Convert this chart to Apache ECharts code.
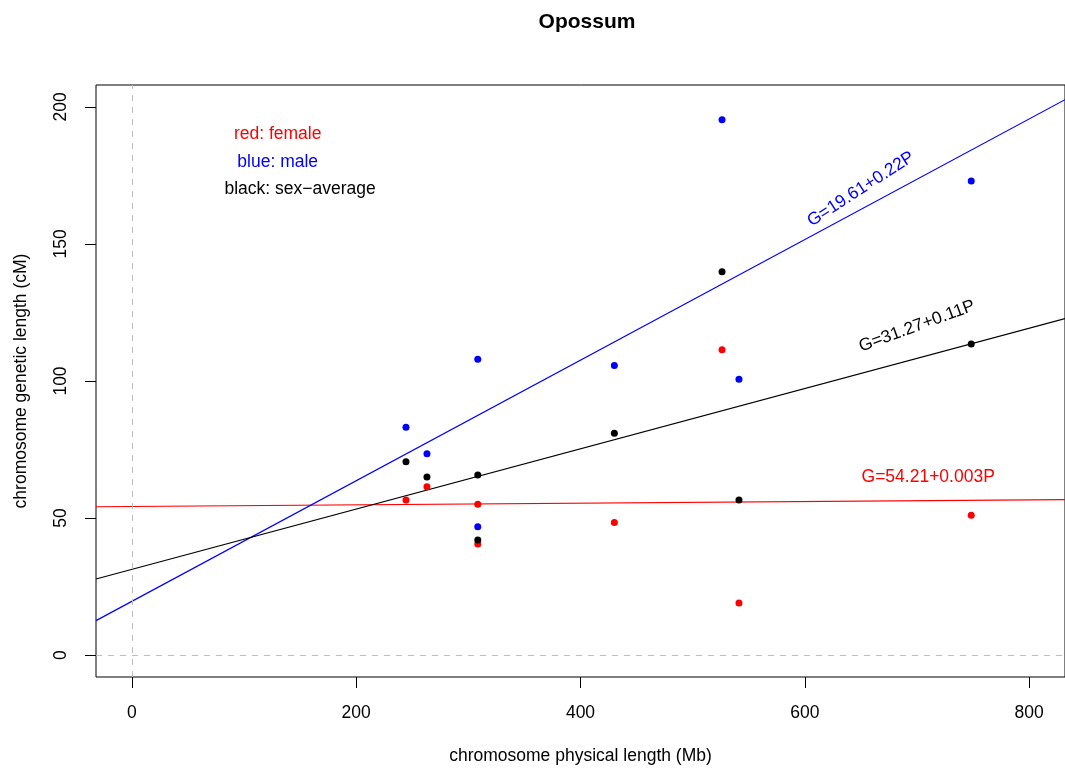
<!DOCTYPE html>
<html>
<head>
<meta charset="utf-8">
<title>Opossum</title>
<script src="https://cdn.jsdelivr.net/npm/echarts@6/dist/echarts.min.js"></script>
<style>
  html, body { margin: 0; padding: 0; background: #fff; }
  #chart { width: 1065px; height: 771px; }
</style>
</head>
<body>
<div id="chart"></div>
<script>
// Physical length (Mb) of each chromosome
const physical = [244.4, 263.1, 308.4, 308.4, 430.2, 526.2, 541.3, 748.4];
// Genetic length (cM) per chromosome
const female  = [56.6, 61.4, 55.0, 40.5, 48.4, 111.4, 19.0, 51.0];
const male    = [83.1, 73.5, 107.9, 46.8, 105.7, 195.3, 100.6, 173.0];
const average = [70.5, 65.0, 65.7, 42.0, 80.9, 139.9, 56.6, 113.5];

// Fitted lines G = a + b*P
const fitNames      = ['female', 'male', 'average'];
const fitIntercepts = [54.21, 19.61, 31.27];
const fitSlopes     = [0.003, 0.22, 0.11];
const fitLabels     = ['G=54.21+0.003P', 'G=19.61+0.22P', 'G=31.27+0.11P'];

const xTicks = [0, 200, 400, 600, 800];
const yTicks = [0, 50, 100, 150, 200];

const X_MIN = -32, X_MAX = 832, Y_MIN = -8, Y_MAX = 208;
const FONT = 'Liberation Sans, Arial, Helvetica, sans-serif';

const RED = '#ff0000', BLUE = '#0000ff', BLACK = '#000000';
const colors = { female: RED, male: BLUE, average: BLACK };

function pairs(ys) { return physical.map((x, i) => [x, ys[i]]); }

function fitLine(i) {
  const a = fitIntercepts[i], b = fitSlopes[i];
  return [[X_MIN, a + b * X_MIN], [X_MAX, a + b * X_MAX]];
}

// Text annotations placed in data coordinates
const notes = [
  { text: 'red: female',        at: [130, 190], color: RED,   rotate: 0 },
  { text: 'blue: male',         at: [130, 180], color: BLUE,  rotate: 0 },
  { text: 'black: sex\u2212average', at: [150, 170], color: BLACK, rotate: 0 },
  { text: fitLabels[1], at: [650, 170], color: BLUE,  rotate: 33 },
  { text: fitLabels[2], at: [700, 120], color: BLACK, rotate: 20 },
  { text: fitLabels[0], at: [710, 65],  color: RED,   rotate: 0 }
];

const chart = echarts.init(document.getElementById('chart'), null, { renderer: 'canvas' });

const series = [];

// reference lines at x = 0 and y = 0
series.push({
  type: 'line',
  data: [],
  silent: true,
  markLine: {
    silent: true,
    symbol: 'none',
    label: { show: false },
    lineStyle: { type: [6, 6], color: '#bebebe', width: 1, opacity: 1 },
    data: [{ xAxis: 0 }, { yAxis: 0 }]
  }
});

// regression lines
fitNames.forEach((name, i) => {
  series.push({
    name: name + ' fit',
    type: 'line',
    data: fitLine(i),
    symbol: 'none',
    silent: true,
    clip: true,
    lineStyle: { color: colors[name], width: 1.2, opacity: 1 },
    z: 2
  });
});

// points
[['female', female], ['male', male], ['average', average]].forEach(([name, ys]) => {
  series.push({
    name: name,
    type: 'scatter',
    data: pairs(ys),
    symbol: 'circle',
    symbolSize: 7,
    itemStyle: { color: colors[name], opacity: 1 },
    z: 3
  });
});

// annotations
series.push({
  type: 'scatter',
  symbolSize: 0,
  silent: true,
  z: 4,
  itemStyle: { opacity: 1 },
  data: notes.map(n => ({
    value: n.at,
    label: {
      show: true,
      position: 'inside',
      formatter: n.text,
      color: n.color,
      opacity: 1,
      rotate: n.rotate,
      fontSize: 17.5,
      fontFamily: FONT
    }
  }))
});

chart.setOption({
  animation: false,
  backgroundColor: '#ffffff',
  title: {
    text: 'Opossum',
    left: 582,
    top: 7,
    textAlign: 'center',
    textStyle: { fontFamily: FONT, fontWeight: 'bold', fontSize: 21, color: '#000' }
  },
  grid: {
    left: 96, top: 85, width: 972, height: 592,
    show: true, borderColor: '#000', borderWidth: 1, backgroundColor: 'transparent'
  },
  xAxis: {
    type: 'value',
    min: X_MIN, max: X_MAX,
    name: 'chromosome physical length (Mb)',
    nameLocation: 'middle',
    nameGap: 70,
    nameTextStyle: { fontFamily: FONT, fontSize: 17.5, color: '#000' },
    axisLine: { show: false, onZero: false },
    splitLine: { show: false },
    axisTick: { show: true, inside: false, customValues: xTicks, length: 11, lineStyle: { color: '#000' } },
    axisLabel: { customValues: xTicks, margin: 27, fontFamily: FONT, fontSize: 17.5, color: '#000' }
  },
  yAxis: {
    type: 'value',
    min: Y_MIN, max: Y_MAX,
    name: 'chromosome genetic length (cM)',
    nameLocation: 'middle',
    nameGap: 66,
    nameRotate: 90,
    nameTextStyle: { fontFamily: FONT, fontSize: 17.5, color: '#000' },
    axisLine: { show: false, onZero: false },
    splitLine: { show: false },
    axisTick: { show: true, inside: false, customValues: yTicks, length: 11, lineStyle: { color: '#000' } },
    axisLabel: { customValues: yTicks, rotate: 90, margin: 26, fontFamily: FONT, fontSize: 17.5, color: '#000' }
  },
  series: series
});
</script>
</body>
</html>
